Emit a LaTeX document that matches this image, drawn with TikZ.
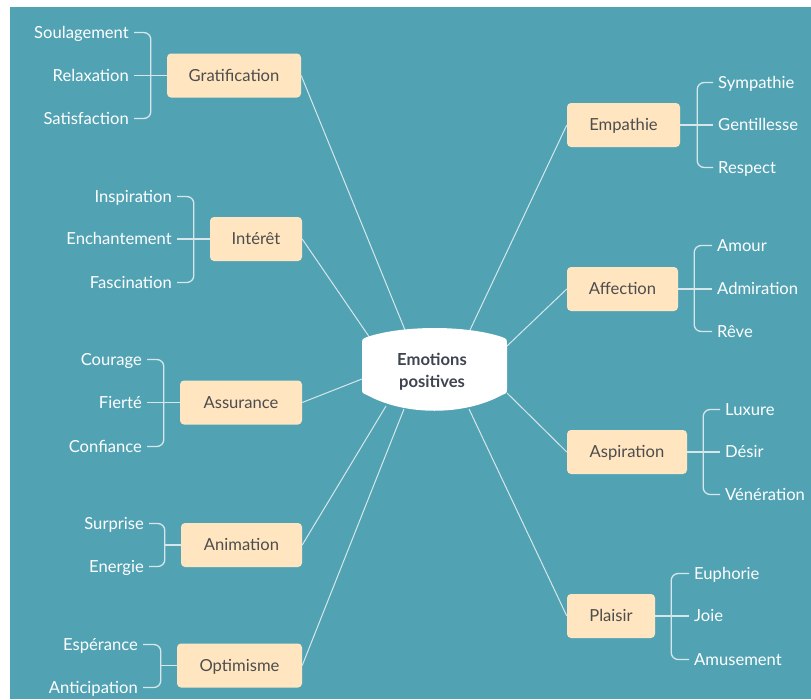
\documentclass[tikz,border=0pt]{standalone}
\usepackage{fontspec}
\setmainfont{Lato}
\usetikzlibrary{calc}
\definecolor{sea}{RGB}{81,163,180}
\definecolor{peach}{RGB}{255,229,192}
\definecolor{boxtext}{RGB}{77,77,77}
\definecolor{hubtext}{RGB}{62,68,80}
\definecolor{twig}{RGB}{214,230,234}

\begin{document}
\begin{tikzpicture}[
    x=1pt, y=-1pt,
    emotion/.style={fill=peach, rounded corners=4pt, minimum height=44pt,
        inner xsep=0pt, text=boxtext, font=\fontsize{16.6}{20}\selectfont,
        text height=11.8pt, text depth=0pt},
    feeling/.style={text=white, font=\fontsize{16.6}{20}\selectfont,
        inner xsep=5pt, inner ysep=0pt, text height=11.8pt, text depth=0pt},
    spoke/.style={draw=twig, line width=1pt},
    twigline/.style={draw=twig, line width=1.3pt, rounded corners=7pt},
]
    \useasboundingbox (0, 0) rectangle (811, 699);
    %% the page and the teal panel
    \fill[white] (0, 0) rectangle (811, 699);
    \fill[sea] (10, 7) rectangle (811, 699);

    %% the nine emotion boxes
    \node[emotion, minimum width=134pt] (grat) at (234, 75.5) {Gratification};
    \node[emotion, minimum width=92pt] (inte) at (256, 239) {Intérêt};
    \node[emotion, minimum width=122pt] (assu) at (241, 402.5) {Assurance};
    \node[emotion, minimum width=121pt] (anim) at (241.5, 545) {Animation};
    \node[emotion, minimum width=125pt] (opti) at (239.5, 665.5) {Optimisme};
    \node[emotion, minimum width=113pt] (empa) at (623.5, 125) {Empathie};
    \node[emotion, minimum width=111pt] (affe) at (622.5, 289) {Affection};
    \node[emotion, minimum width=120pt] (aspi) at (627, 452) {Aspiration};
    \node[emotion, minimum width=88pt] (plai) at (611, 616) {Plaisir};

    %% left hand feelings
    \node[feeling, anchor=east] (soul) at (134, 32.5) {Soulagement};
    \node[feeling, anchor=east] (rela) at (134, 75.5) {Relaxation};
    \node[feeling, anchor=east] (sati) at (134, 118.5) {Satisfaction};
    \node[feeling, anchor=east] (insp) at (177, 196.5) {Inspiration};
    \node[feeling, anchor=east] (ench) at (177, 239) {Enchantement};
    \node[feeling, anchor=east] (fasc) at (177, 282.5) {Fascination};
    \node[feeling, anchor=east] (cour) at (147, 359.5) {Courage};
    \node[feeling, anchor=east] (fier) at (147, 402.5) {Fierté};
    \node[feeling, anchor=east] (conf) at (147, 446.5) {Confiance};
    \node[feeling, anchor=east] (surp) at (149, 523.5) {Surprise};
    \node[feeling, anchor=east] (ener) at (149, 566.5) {Energie};
    \node[feeling, anchor=east] (espe) at (143, 644.5) {Espérance};
    \node[feeling, anchor=east] (anti) at (143, 687.5) {Anticipation};

    %% right hand feelings
    \node[feeling, anchor=west] (symp) at (713, 82.5) {Sympathie};
    \node[feeling, anchor=west] (gent) at (713, 125) {Gentillesse};
    \node[feeling, anchor=west] (resp) at (713, 167.5) {Respect};
    \node[feeling, anchor=west] (amou) at (712, 245.5) {Amour};
    \node[feeling, anchor=west] (admi) at (712, 289) {Admiration};
    \node[feeling, anchor=west] (reve) at (712, 331.5) {Rêve};
    \node[feeling, anchor=west] (luxu) at (720, 409.5) {Luxure};
    \node[feeling, anchor=west] (desi) at (720, 452) {Désir};
    \node[feeling, anchor=west] (vene) at (720, 494.5) {Vénération};
    \node[feeling, anchor=west] (euph) at (689, 573.5) {Euphorie};
    \node[feeling, anchor=west] (joie) at (689, 616) {Joie};
    \node[feeling, anchor=west] (amus) at (689, 659.5) {Amusement};

    %% brackets from the boxes to their feelings
    \draw[twigline] (soul.east) -| ($(grat.west)+(-16, 0)$) |- (sati.east);
    \draw[twigline] (rela.east) -- (rela.east -| grat.west);
    \draw[twigline] (insp.east) -| ($(inte.west)+(-16, 0)$) |- (fasc.east);
    \draw[twigline] (ench.east) -- (ench.east -| inte.west);
    \draw[twigline] (cour.east) -| ($(assu.west)+(-16, 0)$) |- (conf.east);
    \draw[twigline] (fier.east) -- (fier.east -| assu.west);
    \draw[twigline] (surp.east) -| ($(anim.west)+(-16, 0)$) |- (ener.east);
    \draw[twigline] ($(anim.west)+(-16, 0)$) -- (anim.west);
    \draw[twigline] (espe.east) -| ($(opti.west)+(-16, 0)$) |- (anti.east);
    \draw[twigline] ($(opti.west)+(-16, 0)$) -- (opti.west);
    \draw[twigline] (symp.west) -| ($(empa.east)+(17, 0)$) |- (resp.west);
    \draw[twigline] (gent.west) -- (gent.west -| empa.east);
    \draw[twigline] (amou.west) -| ($(affe.east)+(16, 0)$) |- (reve.west);
    \draw[twigline] (admi.west) -- (admi.west -| affe.east);
    \draw[twigline] (luxu.west) -| ($(aspi.east)+(16, 0)$) |- (vene.west);
    \draw[twigline] (desi.west) -- (desi.west -| aspi.east);
    \draw[twigline] (euph.west) -| ($(plai.east)+(16, 0)$) |- (amus.west);
    \draw[twigline] (joie.west) -- (joie.west -| plai.east);

    %% where the spokes meet the hub
    \coordinate (h-grat) at (405, 330);
    \coordinate (h-inte) at (370, 338);
    \coordinate (h-assu) at (362, 379);
    \coordinate (h-anim) at (386, 406);
    \coordinate (h-opti) at (404, 409);
    \coordinate (h-empa) at (470, 330);
    \coordinate (h-affe) at (507, 346);
    \coordinate (h-aspi) at (507, 393);
    \coordinate (h-plai) at (469, 409);
    \foreach \b in {grat, inte, assu, anim, opti}
        \draw[spoke] (\b.east) -- (h-\b);
    \foreach \b in {empa, affe, aspi, plai}
        \draw[spoke] (\b.west) -- (h-\b);

    %% the hub, bulging at top and bottom
    \fill[white] (362, 345) -- (362, 388)
        .. controls (362, 393) .. (367, 395)
        .. controls (405, 416) and (464, 416) .. (502, 395)
        .. controls (507, 393) .. (507, 388) -- (507, 345)
        .. controls (507, 339) .. (502, 337)
        .. controls (466, 325) and (403, 325) .. (367, 337)
        .. controls (362, 339) .. (362, 345) -- cycle;
    \node[text=hubtext, align=center, font=\fontsize{16.6}{22}\selectfont\bfseries]
        (hub) at (432, 372) {Emotions\\positives};
\end{tikzpicture}
\end{document}
